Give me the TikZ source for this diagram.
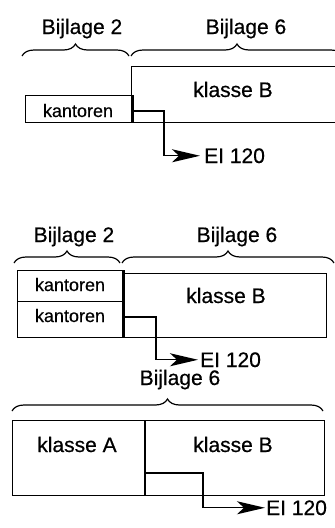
\documentclass[tikz,border=0pt]{standalone}
\usepackage{fontspec}
\setmainfont{Liberation Sans}[BoldFont=Liberation Sans, BoldFeatures={FakeBold=0.5}]
\usetikzlibrary{decorations.pathreplacing,arrows.meta}
\begin{document}
\begin{tikzpicture}[x=1pt,y=-1pt,
  box/.style={draw, line width=1.2pt, inner sep=0pt, anchor=north west},
  lbl/.style={font=\fontsize{21}{25}\selectfont\bfseries, anchor=base, inner sep=0pt},
  small/.style={font=\fontsize{18}{22}\selectfont\bfseries, anchor=base, inner sep=0pt},
  eilbl/.style={font=\fontsize{21}{25}\selectfont\bfseries, anchor=base west, inner sep=0pt},
  thickline/.style={line width=2.6pt},
  conn/.style={line width=1.4pt, -{Stealth[length=28pt,width=13pt,inset=7pt]}},
  br/.style={decorate, decoration={brace, amplitude=12pt}, line width=1.2pt}]
\useasboundingbox (0,0) rectangle (335,528);

% ---------- panel 1 ----------
\node[lbl] (b21) at (82,34) {Bijlage 2};
\node[lbl] (b61) at (246,34) {Bijlage 6};
\draw[br] (22,56) -- (129,56);
\draw[br] (131,56) -- (343,56);
\node[box, minimum width=214pt, minimum height=56pt] (kB1) at (131,66) {};
\node[box, minimum width=106pt, minimum height=27pt] (kt1) at (25,95) {};
\draw[thickline] (kt1.north east) -- (kt1.south east);
\node[lbl] (tB1) at (233,97) {klasse B};
\node[small] (tk1) at (78,117) {kantoren};
\node[eilbl] (ei1) at (204,163) {EI 120};
\coordinate (s1) at (131,111);
\draw[conn] (s1) -- ++(33,0) |- ([xshift=-4pt]ei1.west);

% ---------- panel 2 ----------
\node[lbl] (b22) at (74,242) {Bijlage 2};
\node[lbl] (b62) at (237,242) {Bijlage 6};
\draw[br] (14,263) -- (120,263);
\draw[br] (122,263) -- (334,263);
\node[box, minimum width=204pt, minimum height=64pt] (kB2) at (122,273) {};
\node[box, minimum width=105pt, minimum height=31pt] (kt2a) at (17,270) {};
\node[box, minimum width=105pt, minimum height=36pt] (kt2b) at (17,301) {};
\draw[thickline] (kt2a.north east) -- (kt2b.south east);
\node[small] (tk2a) at (70,291) {kantoren};
\node[small] (tk2b) at (70,322) {kantoren};
\node[lbl] (tB2) at (226,303) {klasse B};
\node[eilbl] (ei2) at (200,367) {EI 120};
\coordinate (s2) at (123,317);
\draw[conn] (s2) -- ++(33,0) |- ([xshift=-2pt]ei2.west);

% ---------- panel 3 ----------
\node[lbl] (b63) at (180,385) {Bijlage 6};
\draw[br] (12,411) -- (323,411);
\node[box, minimum width=312pt, minimum height=75pt] (kAB) at (12,420) {};
\draw[thickline] (145,420) coordinate (d1) -- (145,495) coordinate (d2);
\node[lbl] (tA3) at (77,452) {klasse A};
\node[lbl] (tB3) at (233,452) {klasse B};
\node[eilbl] (ei3) at (266,515) {EI 120};
\coordinate (s3) at (145,473);
\draw[conn] (s3) -- ++(58,0) |- ([xshift=-1pt]ei3.west);
\end{tikzpicture}
\end{document}
